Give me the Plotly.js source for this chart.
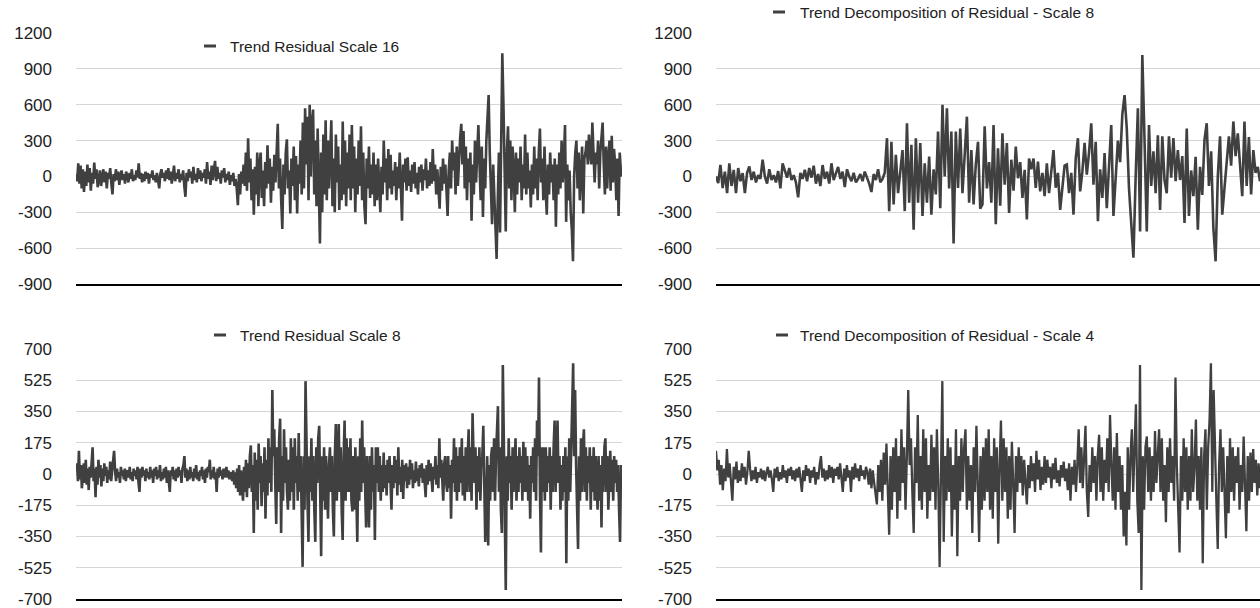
<!DOCTYPE html>
<html><head><meta charset="utf-8">
<script src="https://cdn.plot.ly/plotly-3.0.1.min.js"></script>
<style>html,body{margin:0;padding:0;background:#fff}#chart{width:1260px;height:608px}</style>
</head><body><div id="chart"></div>
<script>
const seriesNames = ["Trend Residual Scale 16", "Trend Decomposition of Residual - Scale 8", "Trend Residual Scale 8", "Trend Decomposition of Residual - Scale 4"];

const topTickVals = [-900, -600, -300, 0, 300, 600, 900, 1200];
const topTickText = ["-900", "-600", "-300", "0", "300", "600", "900", "1200"];
const bottomTickVals = [-700, -525, -350, -175, 0, 175, 350, 525, 700];
const bottomTickText = ["-700", "-525", "-350", "-175", "0", "175", "350", "525", "700"];

const topLeftValues = [
20,-40,110,-60,90,-100,60,-130,40,-80,100,-50,70,-120,30,-60,115,-20,60,-90,
-30,50,-80,20,60,-50,40,-100,30,-20,70,-60,-150,20,-40,60,-30,40,-70,10,
50,-30,20,-60,40,0,-50,30,-20,60,-40,10,-30,50,-10,110,-20,30,-50,20,
-40,40,-20,30,-60,20,-10,50,-30,10,-50,30,-20,-100,20,60,-10,30,-40,50,
-20,70,-30,40,-60,10,90,-40,30,-20,60,-50,20,-30,50,-80,-170,30,-40,60,
-10,40,-60,80,-30,20,-50,70,-20,50,-40,30,-10,60,-60,120,-20,40,-70,90,
-30,60,130,-40,80,-20,30,-60,50,-10,70,-50,20,-30,40,-70,10,-40,30,-80,
-20,-100,-240,20,-150,40,-60,
100,-80,200,-120,320,-50,150,-200,60,-320,80,-150,200,
-250,100,200,-180,50,-250,120,-100,260,-60,150,-220,80,-120,180,-50,300,440,-100,150,
-200,-440,100,-150,200,310,-100,50,-310,150,-80,250,-200,170,-310,100,-60,300,-150,450,
-100,570,100,500,-200,600,0,450,560,-150,300,-250,400,-100,-560,200,-300,350,-150,470,
-200,300,-100,200,470,-250,150,-300,350,-50,250,-280,100,-200,460,-150,300,-250,200,-100,
350,-200,430,-100,250,-300,150,-150,300,-80,420,-200,200,-250,-400,150,-100,250,-180,100,
-150,200,-250,100,-200,150,-100,-300,80,-150,300,-50,150,-200,230,-100,180,-150,50,-80,
120,-200,80,-100,200,-150,-370,100,-50,150,-120,160,-80,50,-130,100,-60,120,-100,30,
-150,80,-50,100,-120,60,-30,150,-100,50,-80,120,-60,230,-40,100,-150,60,-100,-270,
80,-120,150,-60,100,-200,-330,50,200,-100,300,50,200,-150,250,-80,150,320,440,100,
380,-100,250,-200,150,-50,200,-370,100,-150,300,-50,200,430,100,-200,250,-340,150,-100,
300,500,680,200,-100,-400,100,-200,-500,-690,-200,200,-470,400,1030,600,100,-460,200,420,
-100,300,-200,250,50,-300,200,-150,150,-50,250,-200,100,-100,350,-150,200,-100,50,-260,
100,-150,250,-100,150,-200,200,400,-50,150,-200,250,-100,-320,100,-150,200,-50,100,-200,
150,-420,100,-150,200,-100,300,-50,150,430,-380,100,-200,50,-300,-450,-710,0,200,300,
-100,200,-200,100,250,-310,150,200,300,100,350,200,100,450,250,-50,200,100,300,-100,
200,300,450,100,-150,250,-100,150,300,-120,340,-50,230,100,-200,150,-330,200,50,0
];

const topRightValues = [
0,-55,97,-97,40,-140,110,-80,55,-140,70,-40,28,-140,30,83,-30,40,-50,10,-20,140,0,-60,60,-30,10,-50,45,-100,110,40,-10,70,-30,10,-50,-175,30,-20,55,-40,70,-10,90,-60,20,-80,95,-20,40,-60,110,-30,30,80,-20,40,-90,60,0,-40,30,-50,-20,20,-40,40,-10,-60,-130,20,-30,60,-50,-20,30,
320,-290,290,-235,180,-140,60,220,-290,445,-220,265,-445,320,-220,280,-330,110,-220,167,-320,60,-150,375,-265,600,0,570,-100,375,-560,375,-97,400,-140,150,500,-220,220,-235,100,290,-270,
-235,420,-100,120,-220,430,-400,235,-245,360,-70,280,-305,140,-120,250,-15,120,-180,55,-360,150,60,150,-95,125,-125,30,-165,110,-140,50,220,-95,30,-280,-60,90,
100,-140,30,-320,150,320,-125,40,280,15,200,445,-70,290,-375,60,-180,195,-265,100,430,-330,-50,300,120,520,680,
400,-100,-445,-680,0,570,-460,1015,300,-460,430,
-80,210,-140,345,-280,335,-30,-140,335,-10,320,-40,220,-30,170,-390,400,-330,50,-165,165,-445,80,-155,305,445,-80,210,-430,-710,0,335,-320,-100,150,335,90,460,170,360,100,-165,460,-80,330,-150,220,30,80,-40
];

const bottomLeftValues = [
20,60,-40,130,-30,50,-80,20,60,-50,80,-60,30,-90,40,-20,90,150,-40,30,
-130,40,-60,80,-20,50,-70,30,-40,60,-10,40,-50,20,-30,70,-40,10,50,130,
20,-40,30,-20,10,-50,40,-10,20,-30,30,-40,10,20,-20,40,-30,10,-40,30,
-10,20,-30,40,-50,-100,30,-20,40,-10,20,-40,30,-20,10,-30,40,-20,20,-50,
30,-10,40,-30,20,-20,50,-40,10,-30,30,-20,40,-50,20,-30,-100,20,-10,40,
-30,20,-40,30,-20,40,-10,20,-50,30,50,100,-20,30,-40,20,-30,40,-20,10,
-40,30,-20,50,-30,10,-40,20,-10,40,-30,20,-50,30,-20,40,10,80,-30,20,
-20,40,-30,10,-100,30,-20,40,-10,20,-30,30,-20,10,40,-20,20,-30,10,-10,
-40,20,-60,10,-80,30,-100,50,-120,20,-60,-150,40,-100,80,-130,60,-80,100,160,
-100,50,-330,120,-150,80,-200,170,-50,100,-180,60,-100,150,-250,80,-120,200,-50,150,
-100,470,100,250,-50,-280,150,-100,200,310,-330,100,-150,250,-50,150,-100,-200,80,-150,
200,-100,150,-200,200,-50,100,-150,230,-100,100,-250,-520,100,-200,520,50,-150,-380,100,
-100,200,-150,100,-200,-380,150,-50,200,270,-100,-460,100,-150,150,-200,100,-50,-250,50,
150,-100,100,-200,-350,100,280,-150,50,280,-100,150,-200,-370,100,300,-150,200,-100,150,
-100,200,-150,-210,100,-200,150,-100,-380,100,-150,200,-100,300,-50,150,-200,-300,100,-150,
-300,100,-200,150,-100,50,-370,150,-50,150,-100,100,-150,50,-100,120,-80,50,-120,80,
-50,100,-100,-200,50,-80,100,-50,80,-120,150,-60,40,-100,80,-140,50,-40,60,-80,
40,-60,80,-30,60,-80,20,-50,70,-40,30,-70,50,-20,60,-50,30,-90,-130,50,
-60,80,-40,60,-50,-100,40,-30,100,-60,50,-80,200,-20,80,-100,-150,60,100,-50,
-100,100,-80,50,-250,80,-50,200,-100,150,-150,100,-100,150,-50,200,-120,100,-150,150,
-100,100,250,-100,150,-150,340,100,-50,150,-200,100,-100,150,-150,50,100,270,-100,-380,
-200,100,-400,50,-150,100,150,-100,200,-150,100,250,380,-100,150,-200,-330,610,200,-150,
-650,100,-150,200,-50,100,-200,150,-100,50,200,-150,100,-100,150,-50,100,-150,180,-100,
150,-100,100,-150,50,-250,100,-50,150,-100,200,-150,300,100,540,-100,-440,150,-100,150,
-150,150,-100,100,-50,150,-200,100,-100,150,300,-100,150,300,-50,100,-200,50,-150,100,
-100,150,-500,100,-150,200,-100,150,300,620,100,470,50,-200,-420,100,-150,200,-100,150,
250,-100,150,-150,100,-50,150,-200,100,-100,150,-150,100,-50,-200,100,-150,50,-300,100,
-100,150,200,-100,100,-200,50,130,-100,80,-150,100,-50,80,-100,50,-200,-380,50,0
];

const bottomRightValues = [
130,20,80,-60,50,-90,30,-40,140,-20,60,-80,-150,40,-30,70,-50,20,-40,60,
-20,40,-60,10,130,30,-40,20,-30,40,-50,10,-20,30,-30,20,-40,10,40,-20,
20,-30,-100,30,-20,40,-40,10,-30,50,-20,20,-50,30,-10,40,-30,20,-40,30,
-20,40,-30,-100,20,-40,50,-10,30,-50,20,-20,40,-60,10,-30,50,100,-20,30,
-40,20,-30,50,-20,40,-50,30,-10,40,-30,60,-20,-100,30,-40,50,-20,20,-100,
40,-30,60,-20,30,-40,50,-10,20,-30,40,10,-60,30,-80,20,-50,-120,-170,50,
-100,80,-150,120,-60,170,-80,-340,100,-200,150,-100,200,-250,100,-150,250,-50,150,-200,
100,470,50,200,-100,-330,150,-50,330,-150,100,-200,250,-100,200,-250,50,-150,220,-100,
150,-200,250,-50,-520,100,520,-380,100,-150,200,-100,150,-350,50,-200,250,-460,100,-150,
200,-100,150,250,-200,100,-150,50,-330,150,-100,270,-50,-380,100,-200,150,-150,200,-100,
250,-200,100,-250,200,-100,150,-390,50,300,-150,200,-100,150,-250,100,-200,180,-50,-330,
100,-100,150,-50,100,-120,80,-60,-170,50,-80,100,-40,60,-100,130,-30,80,-90,40,
-60,100,-50,80,-20,40,-80,60,-30,90,-50,20,-70,50,-20,70,-40,30,-90,60,
-150,40,-60,80,-100,50,250,-50,150,-80,100,270,-100,-240,50,-100,150,-50,100,-150,
100,220,-100,150,-150,80,-50,200,-100,330,50,-150,150,-200,230,-100,100,-200,50,-350,
-100,-400,150,-200,100,250,-100,200,390,-150,-330,610,-650,100,-200,150,210,-100,150,-150,
100,-100,240,-50,150,250,-100,200,-150,50,-270,150,-100,200,-50,100,-150,540,50,-200,
-440,100,-150,200,-100,150,-200,100,-150,250,-100,50,305,-150,100,-200,150,-500,100,250,
-200,150,300,620,-100,470,100,-150,-420,50,250,-100,150,-150,-360,100,-220,200,-100,150,
-150,100,-50,150,-200,50,-100,210,-50,-320,100,-150,120,-100,140,-50,80,-120,60,-80
];

const FONT = "Liberation Sans, Arial, Helvetica, sans-serif";
const LINE = "#404040";
const idx = a => a.map((_, i) => i);

function trace(vals, xa, ya, name, w) {
  return {x: idx(vals), y: vals, xaxis: xa, yaxis: ya, name: name, type: "scatter", mode: "lines",
          line: {color: LINE, width: w}, showlegend: false, hoverinfo: "skip"};
}
const data = [
  trace(topLeftValues, "x", "y", seriesNames[0], 2.6),
  trace(topRightValues, "x2", "y2", seriesNames[1], 2.6),
  trace(bottomLeftValues, "x3", "y3", seriesNames[2], 2.6),
  trace(bottomRightValues, "x4", "y4", seriesNames[3], 2.3)
];

function xax(dom, anchor, n) {
  return {domain: dom, anchor: anchor, range: [0, n - 1], showgrid: false, zeroline: false,
          showticklabels: false, ticks: "", showline: true, linecolor: "#000", linewidth: 2, fixedrange: true};
}
function yax(dom, anchor, rng, tv, tt) {
  return {domain: dom, anchor: anchor, range: rng, tickmode: "array", tickvals: tv, ticktext: tt,
          gridcolor: "#d6d6d6", gridwidth: 1, zeroline: false, showline: false, ticks: "",
          ticklabelstandoff: 23, ticklabeloverflow: "allow",
          tickfont: {family: FONT, size: 17, color: "#222"}, fixedrange: true};
}
const topDom = [1 - 284/608, 1 - 33/608];
const botDom = [1 - 599/608, 1 - 349/608];
const leftDom = [76/1260, 622/1260];
const rightDom = [716/1260, 1];

function legendItem(dashX0, textX, yPx, text) {
  const y = 1 - yPx/608;
  return {
    shape: {type: "line", xref: "paper", yref: "paper", x0: dashX0/1260, x1: (dashX0 + 12)/1260, y0: y, y1: y,
            line: {color: LINE, width: 3}},
    ann: {xref: "paper", yref: "paper", x: textX/1260, y: y, xanchor: "left", yanchor: "middle", showarrow: false,
          text: text, font: {family: FONT, size: 15.5, color: "#222"}}
  };
}
const legs = [
  legendItem(204, 228, 46, seriesNames[0]),
  legendItem(773, 798, 12, seriesNames[1]),
  legendItem(214, 238, 335, seriesNames[2]),
  legendItem(776, 798, 335, seriesNames[3])
];

const layout = {
  width: 1260, height: 608,
  margin: {l: 0, r: 0, t: 0, b: 0},
  paper_bgcolor: "#fff", plot_bgcolor: "#fff",
  showlegend: false,
  font: {family: FONT},
  xaxis: xax(leftDom, "y", topLeftValues.length),
  yaxis: yax(topDom, "x", [-900, 1200], topTickVals, topTickText),
  xaxis2: xax(rightDom, "y2", topRightValues.length),
  yaxis2: yax(topDom, "x2", [-900, 1200], topTickVals, topTickText),
  xaxis3: xax(leftDom, "y3", bottomLeftValues.length),
  yaxis3: yax(botDom, "x3", [-700, 700], bottomTickVals, bottomTickText),
  xaxis4: xax(rightDom, "y4", bottomRightValues.length),
  yaxis4: yax(botDom, "x4", [-700, 700], bottomTickVals, bottomTickText),
  shapes: legs.map(l => l.shape),
  annotations: legs.map(l => l.ann)
};
Plotly.newPlot("chart", data, layout, {displayModeBar: false, staticPlot: true});
</script></body></html>
